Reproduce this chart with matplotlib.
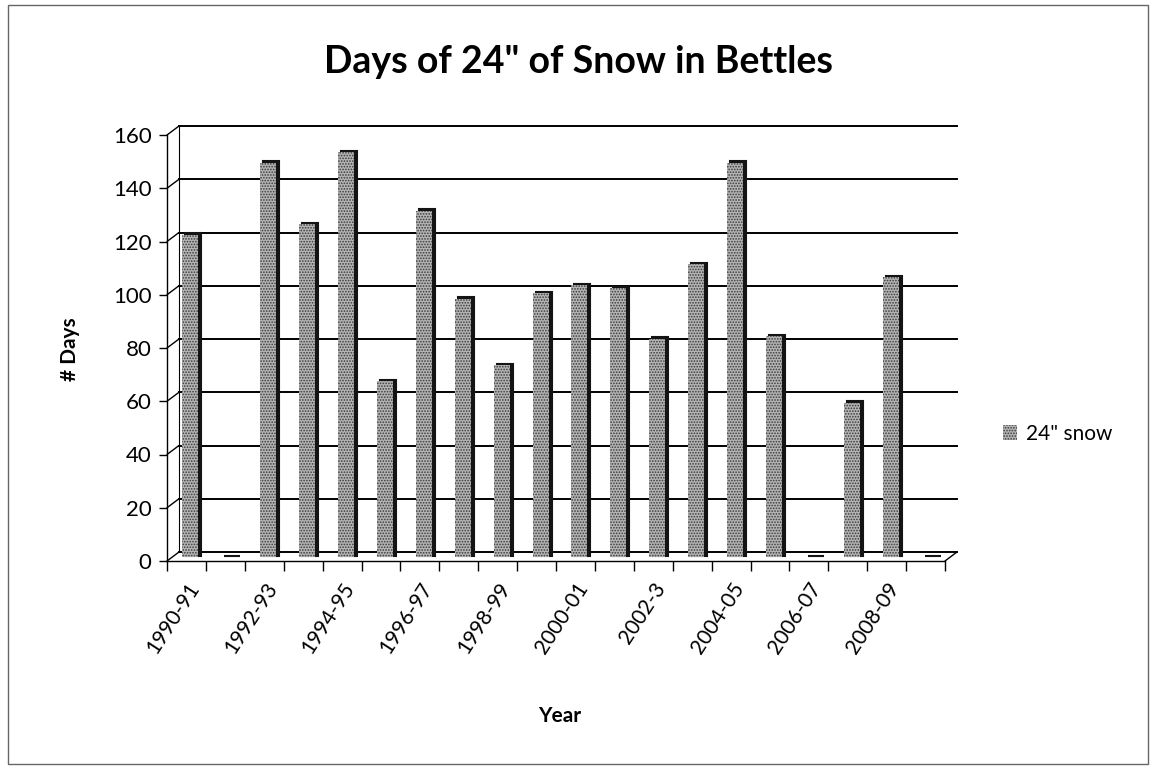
import matplotlib
matplotlib.use("Agg")
import matplotlib.pyplot as plt
import matplotlib.transforms as mtransforms
from matplotlib.patches import Rectangle

seasons = ["1990-91", "1991-92", "1992-93", "1993-94", "1994-95", "1995-96",
           "1996-97", "1997-98", "1998-99", "1999-00", "2000-01", "2001-02",
           "2002-3", "2003-04", "2004-05", "2005-06", "2006-07", "2007-08",
           "2008-09", "2009-10"]
snow_days = [121, 0, 148, 125, 152, 66, 130, 97, 72, 99,
             102, 101, 82, 110, 148, 83, 0, 58, 105, 0]
yticks = [0, 20, 40, 60, 80, 100, 120, 140, 160]
title = 'Days of 24" of Snow in Bettles'
series_name = '24" snow'

plt.rcParams['font.family'] = ['Lato', 'DejaVu Sans']
plt.rcParams['hatch.linewidth'] = 0.8

W, H = 1156, 768
fig = plt.figure(figsize=(W / 100, H / 100), dpi=100)
fig.patch.set_facecolor('white')

# outer chart border
fig.add_artist(Rectangle((8 / W, 4 / H), (1148 - 8) / W, (763 - 4) / H,
                         transform=fig.transFigure, fill=False,
                         edgecolor='#666666', lw=1.0))

left, right, top, bottom = 167, 945, 135, 561
ax = fig.add_axes([left / W, (H - bottom) / H, (right - left) / W, (bottom - top) / H])
n = len(seasons)
x = list(range(n))
ax.set_xlim(-0.5, n - 0.5)
ax.set_ylim(0, 160)
for s in ['top', 'right']:
    ax.spines[s].set_visible(False)
ax.spines['left'].set_color('black')
ax.spines['bottom'].set_color('black')
ax.spines['left'].set_linewidth(1.0)
ax.spines['bottom'].set_linewidth(1.0)

# 3D depth offsets (pixels)
DX, DY = 12, 9
back = ax.transData + mtransforms.ScaledTranslation(DX / 100, DY / 100, fig.dpi_scale_trans)
mid = ax.transData + mtransforms.ScaledTranslation(4 / 100, 4 / 100, fig.dpi_scale_trans)
side = ax.transData + mtransforms.ScaledTranslation(7 / 100, 5.5 / 100, fig.dpi_scale_trans)

# back wall gridlines
for v in yticks:
    ax.plot([-0.5, n - 0.5], [v, v], color='black', lw=1.4, transform=back,
            clip_on=False, zorder=1)
    ax.annotate('', xy=(-0.5, v), xytext=(DX, DY), textcoords='offset pixels',
                arrowprops=dict(arrowstyle='-', lw=1.0, color='black',
                                shrinkA=0, shrinkB=0), annotation_clip=False)
# back wall left edge
ax.plot([-0.5, -0.5], [0, 160], color='black', lw=0.8, transform=back, clip_on=False)
# floor right edge
ax.annotate('', xy=(n - 0.5, 0), xytext=(DX, DY), textcoords='offset pixels',
            arrowprops=dict(arrowstyle='-', lw=1.0, color='black',
                            shrinkA=0, shrinkB=0), annotation_clip=False)

bw = 0.41
# dark side/top faces
ax.bar(x, snow_days, width=bw, color='#141414', edgecolor='#141414', lw=1.5,
       transform=side, zorder=3, clip_on=False)
# front faces
ax.bar(x, snow_days, width=bw, color='#b4b4b4', edgecolor='#3a3a3a', lw=0,
       hatch='......', transform=mid, zorder=4, clip_on=False, label=series_name)

# ticks
ax.set_yticks(yticks)
ax.set_yticklabels([str(v) for v in yticks], fontsize=16)
ax.tick_params(axis='y', length=6, width=1, direction='out', pad=5)
ax.set_xticks([i - 0.5 for i in range(n + 1)])
ax.set_xticklabels([])
ax.tick_params(axis='x', which='major', length=7, width=1, direction='out')
ax.set_xticks(x[::2], minor=True)
ax.set_xticklabels(seasons[::2], minor=True, rotation=57, ha='right',
                   rotation_mode='anchor', fontsize=15)
ax.tick_params(axis='x', which='minor', length=0, pad=13)

fig.text(70 / W, 1 - 349 / H, '# Days', fontsize=15, fontweight='bold',
         rotation=90, ha='center', va='center')
fig.text(560 / W, 1 - 716 / H, 'Year', fontsize=15, fontweight='bold',
         ha='center', va='center')
fig.text(578 / W, 1 - 62 / H, title, fontsize=27, fontweight='bold',
         ha='center', va='center')

fig.legend(loc='center left', bbox_to_anchor=(984 / W, 1 - 434 / H), frameon=False,
           fontsize=15, handlelength=0.7, handleheight=0.7, handletextpad=0.4)

fig.savefig('out.png', dpi=100)
